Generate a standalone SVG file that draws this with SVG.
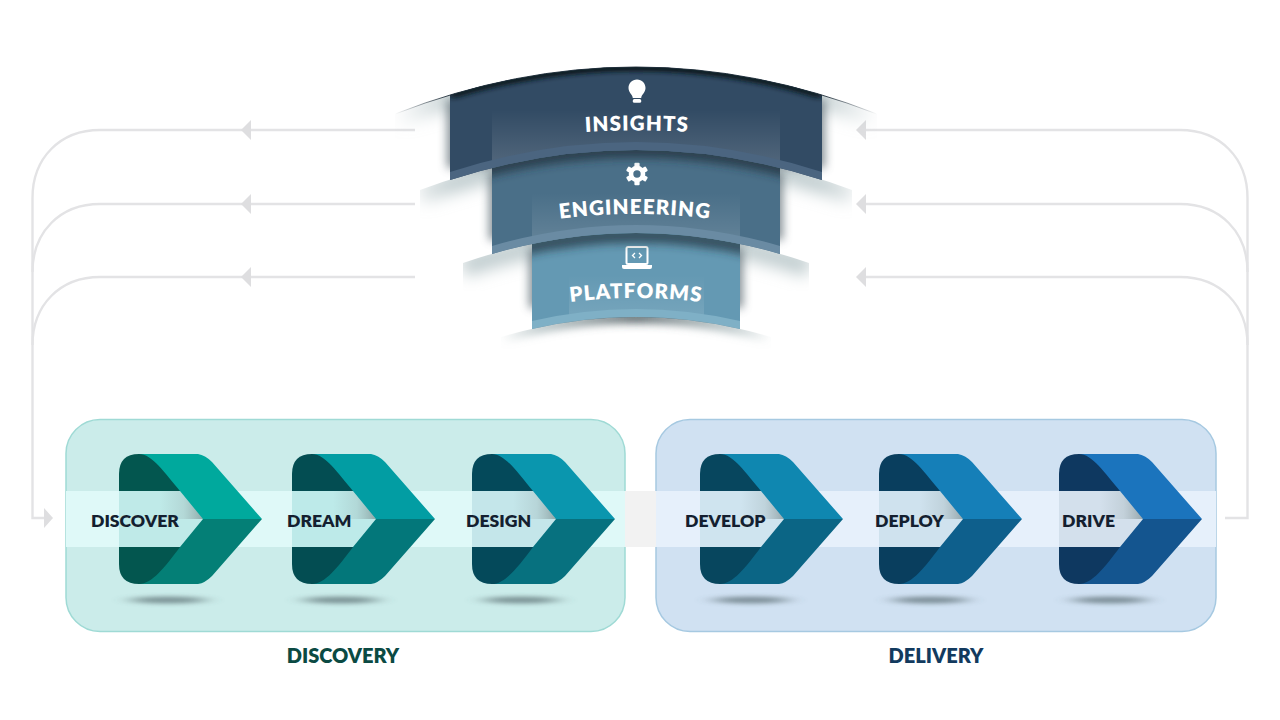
<svg xmlns="http://www.w3.org/2000/svg" xmlns:xlink="http://www.w3.org/1999/xlink" width="1280" height="720" viewBox="0 0 1280 720">
<style>
.line{fill:none;stroke:#e3e3e5;stroke-width:2.4}
.head{fill:#dedee0}
.step{font:800 17.6px Lato,"Liberation Sans",sans-serif;fill:#141f30}
.group{font:800 20px Lato,"Liberation Sans",sans-serif}
.layer{font:800 20.5px Lato,"Liberation Sans",sans-serif;fill:#fff;letter-spacing:1.1px}
.wing{fill:none;stroke-width:16;filter:url(#b5)}
.soft{fill:none;stroke-width:20;filter:url(#b8)}
.notch{fill:url(#notch)}
</style>
<defs>
<filter id="b5" x="-20%" y="-60%" width="140%" height="220%"><feGaussianBlur stdDeviation="4"/></filter>
<filter id="b8" x="-20%" y="-80%" width="140%" height="260%"><feGaussianBlur stdDeviation="8"/></filter>
<filter id="b3" x="-30%" y="-200%" width="160%" height="500%"><feGaussianBlur stdDeviation="4 2"/></filter>
<filter id="el" x="-50%" y="-400%" width="200%" height="900%"><feGaussianBlur stdDeviation="10 2"/></filter>
<filter id="b7" x="-20%" y="-30%" width="140%" height="160%"><feGaussianBlur stdDeviation="5"/></filter>
<linearGradient id="gA" gradientUnits="userSpaceOnUse" x1="395" x2="877" y1="0" y2="0"><stop offset="0" stop-color="#a9babd" stop-opacity="0"/><stop offset=".12" stop-color="#a9babd" stop-opacity=".75"/><stop offset=".88" stop-color="#a9babd" stop-opacity=".75"/><stop offset="1" stop-color="#a9babd" stop-opacity="0"/></linearGradient>
<linearGradient id="gTop" gradientUnits="userSpaceOnUse" x1="395" x2="877" y1="0" y2="0"><stop offset="0" stop-color="#1b2a36" stop-opacity="0"/><stop offset=".11" stop-color="#1b2a36" stop-opacity=".9"/><stop offset=".89" stop-color="#1b2a36" stop-opacity=".9"/><stop offset="1" stop-color="#1b2a36" stop-opacity="0"/></linearGradient>
<linearGradient id="gB" gradientUnits="userSpaceOnUse" x1="420" x2="852" y1="0" y2="0"><stop offset="0" stop-color="#22333f" stop-opacity="0"/><stop offset=".16" stop-color="#22333f" stop-opacity=".75"/><stop offset=".84" stop-color="#22333f" stop-opacity=".75"/><stop offset="1" stop-color="#22333f" stop-opacity="0"/></linearGradient>
<linearGradient id="gC" gradientUnits="userSpaceOnUse" x1="463" x2="809" y1="0" y2="0"><stop offset="0" stop-color="#22333f" stop-opacity="0"/><stop offset=".2" stop-color="#22333f" stop-opacity=".7"/><stop offset=".8" stop-color="#22333f" stop-opacity=".7"/><stop offset="1" stop-color="#22333f" stop-opacity="0"/></linearGradient>
<linearGradient id="gD" gradientUnits="userSpaceOnUse" x1="501" x2="771" y1="0" y2="0"><stop offset="0" stop-color="#8fa3a6" stop-opacity="0"/><stop offset=".14" stop-color="#8fa3a6" stop-opacity=".6"/><stop offset=".5" stop-color="#2a3a40" stop-opacity=".8"/><stop offset=".86" stop-color="#8fa3a6" stop-opacity=".6"/><stop offset="1" stop-color="#8fa3a6" stop-opacity="0"/></linearGradient>
<linearGradient id="notch" x1="0" x2="1" y1="0" y2="0"><stop offset="0" stop-color="#8a9a9a" stop-opacity="0"/><stop offset=".55" stop-color="#8a9a9a" stop-opacity=".22"/><stop offset="1" stop-color="#6f7f80" stop-opacity=".6"/></linearGradient>
<linearGradient id="glow1" x1="0" x2="0" y1="0" y2="1"><stop offset="0" stop-color="#fff" stop-opacity="0"/><stop offset="1" stop-color="#fff" stop-opacity=".17"/></linearGradient>
<clipPath id="belowA"><path d="M395 114Q636 20 877 114V240H395Z"/></clipPath>
<clipPath id="belowB"><path d="M420 190Q636 110 852 190V280H420Z"/></clipPath>
<clipPath id="belowC"><path d="M463 263Q636 203 809 263V340H463Z"/></clipPath>
<clipPath id="belowD"><path d="M501 337Q636 297 771 337V375H501Z"/></clipPath>
<clipPath id="bandI"><path d="M450 95Q636 39 822 95V180Q636 120 450 180Z"/></clipPath>
<clipPath id="bandE"><path d="M492 140H780V254Q636 212 492 254Z"/></clipPath>
<clipPath id="bandP"><path d="M532 220H740V329Q636 305 532 329Z"/></clipPath>
<path id="tI" d="M557 134Q637 127 717 134"/>
<path id="tE" d="M545 221Q635 207 725 221"/>
<path id="tP" d="M556 304Q636 292 716 304"/>
<g id="tooth"><rect x="-2.6" y="-11.2" width="5.2" height="6" rx="1"/></g>
</defs>
<rect width="1280" height="720" fill="#fff"/>

<g id="connectors">
<path class="line" d="M415 130H100C60 130 32.500 158 32.500 198V518H45"/>
<path class="line" d="M415 204H100C60 204 32.500 232 32.500 272"/>
<path class="line" d="M415 277H100C60 277 32.500 305 32.500 345"/>
<path class="line" d="M858 130H1180C1220 130 1247.500 158 1247.500 198V518H1225"/>
<path class="line" d="M858 204H1180C1220 204 1247.500 232 1247.500 272"/>
<path class="line" d="M858 277H1180C1220 277 1247.500 305 1247.500 345"/>
<path class="head" d="M241 130L251 120V140Z"/><path class="head" d="M241 204L251 194V214Z"/><path class="head" d="M241 277L251 267V287Z"/>
<path class="head" d="M856 130L866 120V140Z"/><path class="head" d="M856 204L866 194V214Z"/><path class="head" d="M856 277L866 267V287Z"/>
<path class="head" d="M53 518L44 508V528Z"/>
</g>

<g id="layer-stack">
<g clip-path="url(#belowA)"><path class="soft" stroke="url(#gA)" d="M395 118Q636 24 877 118"/></g>
<g clip-path="url(#belowB)"><path class="soft" stroke="url(#gA)" d="M420 194Q636 114 852 194"/></g>
<g clip-path="url(#belowC)"><path class="soft" stroke="url(#gA)" d="M463 267Q636 207 809 267"/></g>
<g opacity=".75">
<rect x="447" y="100" width="378" height="68" fill="#5b6b72" filter="url(#b7)" clip-path="url(#belowA)"/>
<rect x="489" y="172" width="294" height="68" fill="#5b6b72" filter="url(#b7)"/>
<rect x="529" y="248" width="214" height="60" fill="#5b6b72" filter="url(#b7)"/>
</g>

<g id="platforms">
<path d="M532 220H740V329Q636 305 532 329Z" fill="#6499b3"/>
<rect x="569" y="275" width="135" height="60" fill="url(#glow1)" clip-path="url(#bandP)"/>
<path d="M532 329Q636 305 740 329V321Q636 297 532 321Z" fill="#7fb0c6"/>
<text class="layer"><textPath xlink:href="#tP" href="#tP" startOffset="50%" text-anchor="middle">PLATFORMS</textPath></text>
<path d="M622 265H652V267Q652 269 650 269H624Q622 269 622 267Z" fill="#fff"/>
<rect x="626.500" y="247" width="21" height="17" rx="1.500" fill="none" stroke="#fff" stroke-width="2"/>
<path d="M635 253L632.500 255.500L635 258M639 253L641.500 255.500L639 258" fill="none" stroke="#fff" stroke-width="1.300"/>
</g>
<g clip-path="url(#belowD)"><path class="wing" stroke="url(#gD)" d="M501 338Q636 298 771 338" style="stroke-width:10"/></g>
<g clip-path="url(#bandP)"><g clip-path="url(#belowC)"><path class="wing" stroke="url(#gC)" d="M463 265Q636 205 809 265"/></g></g>

<g id="engineering">
<path d="M492 140H780V254Q636 212 492 254Z" fill="#4a6f88"/>
<rect x="532" y="193" width="208" height="60" fill="url(#glow1)" clip-path="url(#bandE)"/>
<path d="M492 254Q636 212 780 254V246Q636 204 492 246Z" fill="#6a8ba3"/>
<text class="layer"><textPath xlink:href="#tE" href="#tE" startOffset="50%" text-anchor="middle">ENGINEERING</textPath></text>
<g fill="#fff" transform="translate(637 174)"><use href="#tooth"/><use href="#tooth" transform="rotate(60)"/><use href="#tooth" transform="rotate(120)"/><use href="#tooth" transform="rotate(180)"/><use href="#tooth" transform="rotate(240)"/><use href="#tooth" transform="rotate(300)"/><circle r="6" fill="none" stroke="#fff" stroke-width="4.600"/></g>
</g>
<g clip-path="url(#bandE)"><g clip-path="url(#belowB)"><path class="wing" stroke="url(#gB)" d="M420 190Q636 110 852 190"/></g></g>

<g id="insights">
<path d="M450 95Q636 39 822 95V180Q636 120 450 180Z" fill="#324b64"/>
<rect x="492" y="110" width="288" height="60" fill="url(#glow1)" clip-path="url(#bandI)"/>
<path d="M450 180Q636 120 822 180V172Q636 112 450 172Z" fill="#4b6580"/>
<g clip-path="url(#bandI)"><path d="M450 95Q636 39 822 95" fill="none" stroke="#0d1a24" stroke-width="9" filter="url(#b3)"/></g>
<path d="M395 114Q636 20 877 114" fill="none" stroke="url(#gTop)" stroke-width="1"/>
<text class="layer"><textPath xlink:href="#tI" href="#tI" startOffset="50%" text-anchor="middle">INSIGHTS</textPath></text>
<path d="M637 79.500C632 79.500 628.500 83.500 628.500 88C628.500 92.500 632.500 94.500 632.800 98H641.200C641.500 94.500 645.500 92.500 645.500 88C645.500 83.500 642 79.500 637 79.500Z" fill="#fff"/>
<rect x="632.800" y="99" width="8.400" height="3.800" rx="1.500" fill="#fff"/>
</g>
</g>

<g id="panels">
<rect id="panel-discovery" x="66" y="419.500" width="559" height="212" rx="34" fill="#cbecea" stroke="#9fdad5" stroke-width="1.500"/>
<rect id="panel-delivery" x="656" y="419.500" width="560" height="212" rx="34" fill="#d0e1f2" stroke="#a6c9e1" stroke-width="1.500"/>
</g>

<g id="shadows" fill="#4a5c60" opacity=".6">
<ellipse cx="168" cy="600" rx="38" ry="3.500" filter="url(#el)"/><ellipse cx="341" cy="600" rx="38" ry="3.500" filter="url(#el)"/><ellipse cx="521" cy="600" rx="38" ry="3.500" filter="url(#el)"/>
<ellipse cx="751" cy="600" rx="38" ry="3.500" filter="url(#el)"/><ellipse cx="930" cy="600" rx="38" ry="3.500" filter="url(#el)"/><ellipse cx="1110" cy="600" rx="38" ry="3.500" filter="url(#el)"/>
</g>

<g id="backs">
<path d="M185 456L170 454H139Q119 454 119 474V564Q119 584 139 584H170L185 582Z" fill="#03564f"/>
<path d="M358 456L343 454H312Q292 454 292 474V564Q292 584 312 584H343L358 582Z" fill="#034d52"/>
<path d="M538 456L523 454H492Q472 454 472 474V564Q472 584 492 584H523L538 582Z" fill="#04495a"/>
<path d="M766 456L751 454H720Q700 454 700 474V564Q700 584 720 584H751L766 582Z" fill="#07465e"/>
<path d="M945 456L930 454H899Q879 454 879 474V564Q879 584 899 584H930L945 582Z" fill="#093e5e"/>
<path d="M1125 456L1110 454H1079Q1059 454 1059 474V564Q1059 584 1079 584H1110L1125 582Z" fill="#0e3860"/>
</g>

<g id="band">
<rect x="66" y="491" width="559" height="56" fill="#dff9f8"/>
<rect x="625" y="491" width="31" height="56" fill="#f2f2f2"/>
<rect x="656" y="491" width="560" height="56" fill="#e6f0fb"/>
<rect x="119" y="491" width="84" height="56" fill="#bfeae8"/><rect x="292" y="491" width="84" height="56" fill="#bdeae9"/><rect x="472" y="491" width="84" height="56" fill="#c4e6ea"/>
<rect x="700" y="491" width="84" height="56" fill="#cfe4ef"/><rect x="879" y="491" width="84" height="56" fill="#cfe2ee"/><rect x="1059" y="491" width="84" height="56" fill="#d3e0ec"/>
<rect class="notch" x="160" y="491" width="43" height="28"/><rect class="notch" x="333" y="491" width="43" height="28"/><rect class="notch" x="513" y="491" width="43" height="28"/><rect class="notch" x="741" y="491" width="43" height="28"/><rect class="notch" x="920" y="491" width="43" height="28"/><rect class="notch" x="1100" y="491" width="43" height="28"/>
</g>

<g id="step-discover"><path d="M139 454H198Q205 455 212 462L262 519H203L180 491C165 473 152 454 139 454Z" fill="#00a99d"/><path d="M139 584H198Q205 583 212 576L262 519H203L180 547C165 567 152 584 139 584Z" fill="#047f76"/><text class="step" x="91" y="527">DISCOVER</text></g>
<g id="step-dream"><path d="M312 454H371Q378 455 385 462L435 519H376L353 491C338 473 325 454 312 454Z" fill="#029da3"/><path d="M312 584H371Q378 583 385 576L435 519H376L353 547C338 567 325 584 312 584Z" fill="#03777a"/><text class="step" x="287" y="527">DREAM</text></g>
<g id="step-design"><path d="M492 454H551Q558 455 565 462L615 519H556L533 491C518 473 505 454 492 454Z" fill="#0a96ae"/><path d="M492 584H551Q558 583 565 576L615 519H556L533 547C518 567 505 584 492 584Z" fill="#07717f"/><text class="step" x="466" y="527">DESIGN</text></g>
<g id="step-develop"><path d="M720 454H779Q786 455 793 462L843 519H784L761 491C746 473 733 454 720 454Z" fill="#0f87b0"/><path d="M720 584H779Q786 583 793 576L843 519H784L761 547C746 567 733 584 720 584Z" fill="#0b6585"/><text class="step" x="685" y="527">DEVELOP</text></g>
<g id="step-deploy"><path d="M899 454H958Q965 455 972 462L1022 519H963L940 491C925 473 912 454 899 454Z" fill="#157fb8"/><path d="M899 584H958Q965 583 972 576L1022 519H963L940 547C925 567 912 584 899 584Z" fill="#0e5f8c"/><text class="step" x="875" y="527">DEPLOY</text></g>
<g id="step-drive"><path d="M1079 454H1138Q1145 455 1152 462L1202 519H1143L1120 491C1105 473 1092 454 1079 454Z" fill="#1b74bd"/><path d="M1079 584H1138Q1145 583 1152 576L1202 519H1143L1120 547C1105 567 1092 584 1079 584Z" fill="#14558f"/><text class="step" x="1062" y="527">DRIVE</text></g>

<text id="label-discovery" class="group" x="343" y="663" text-anchor="middle" fill="#0b4a43">DISCOVERY</text>
<text id="label-delivery" class="group" x="936" y="663" text-anchor="middle" fill="#123a5e">DELIVERY</text>
</svg>
